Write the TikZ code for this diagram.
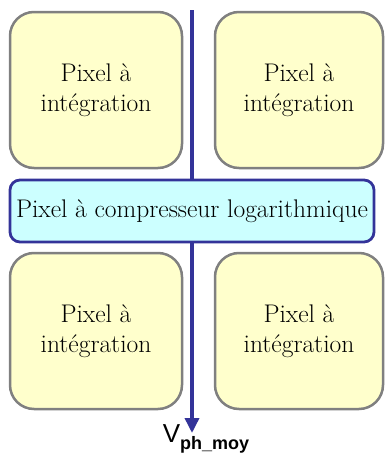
\documentclass[tikz,border=0pt]{standalone}
\usepackage{fontspec}
\newfontfamily\labelfont{Liberation Sans}
\usetikzlibrary{arrows.meta}
\definecolor{pixfill}{HTML}{FFFFCC}
\definecolor{pixedge}{HTML}{808080}
\definecolor{busblue}{HTML}{333399}
\definecolor{logfill}{HTML}{CCFFFF}
\begin{document}
\begin{tikzpicture}[x=1pt,y=-1pt,
  pixbox/.style={draw=pixedge, fill=pixfill, line width=2.5pt, rounded corners=24pt,
    minimum width=#1, minimum height=156pt, align=center, inner sep=0pt,
    font=\rmfamily\fontsize{25.5}{30}\selectfont},
  logbox/.style={draw=busblue, fill=logfill, line width=2.8pt, rounded corners=10pt,
    minimum width=364pt, minimum height=62pt, inner sep=0pt,
    font=\rmfamily\fontsize{25.5}{30}\selectfont},
  bus/.style={draw=busblue, line width=3.5pt, -{Triangle[length=15pt,width=14pt]}}]
  \useasboundingbox (0,0) rectangle (385,461);
  % output bus running between the pixels
  \coordinate (top) at (192,10);
  \coordinate (tip) at (192,433);
  \draw[bus] (top) -- (tip);
  % pixel array
  \node[pixbox=172pt] (p1) at (96,90) {Pixel à\\intégration};
  \node[pixbox=168pt] (p2) at (299,90) {Pixel à\\intégration};
  \node[pixbox=172pt] (p3) at (96,331) {Pixel à\\intégration};
  \node[pixbox=168pt] (p4) at (299,331) {Pixel à\\intégration};
  \node[logbox] (log) at (192,211) {Pixel à compresseur logarithmique};
  % output label
  \node[anchor=north, inner sep=0pt] (vout) at (206,424)
    {\labelfont\fontsize{26}{26}\selectfont V\raisebox{-7pt}{\bfseries\fontsize{18}{18}\selectfont ph\_moy}};
\end{tikzpicture}
\end{document}
